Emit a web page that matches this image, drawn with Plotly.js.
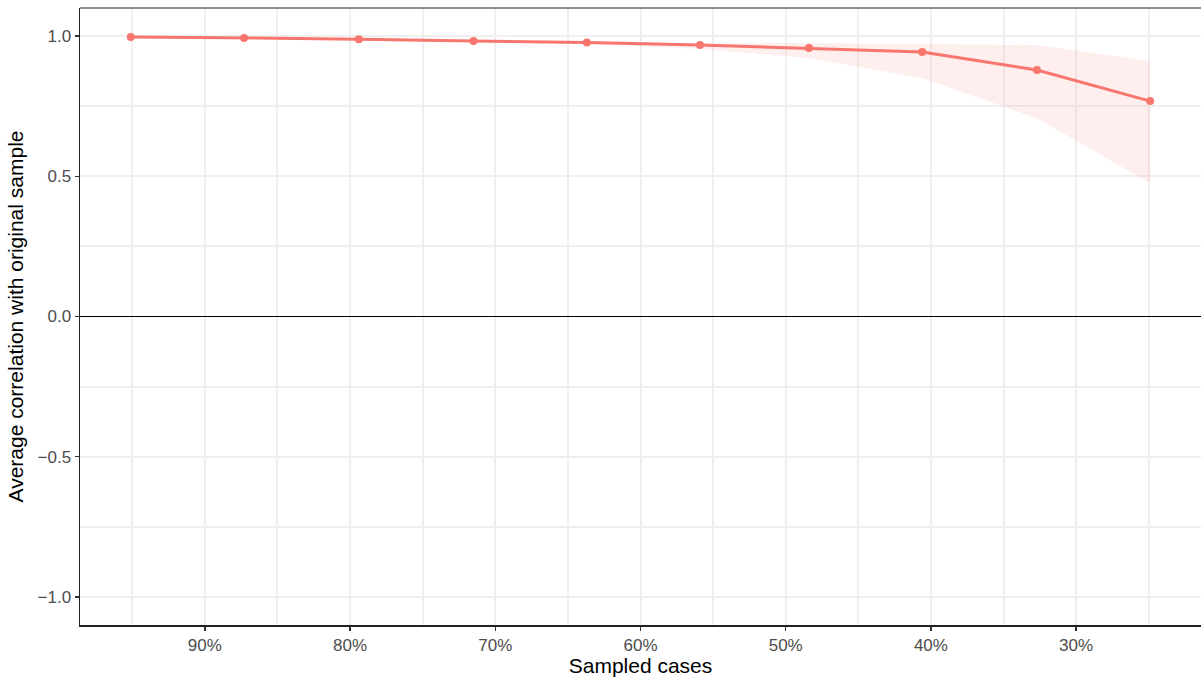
<!DOCTYPE html>
<html>
<head>
<meta charset="utf-8">
<script src="https://cdn.plot.ly/plotly-3.0.1.min.js"></script>
<style>html,body{margin:0;padding:0;background:#fff;}#chart{width:1201px;height:677px;}</style>
</head>
<body>
<div id="chart"></div>
<script>
// Sampled cases (percent) and average correlation with original sample
const sampledPct = [95.1, 87.3, 79.4, 71.5, 63.7, 55.9, 48.4, 40.6, 32.7, 24.9];
const meanCorr   = [0.997, 0.993, 0.989, 0.982, 0.977, 0.968, 0.957, 0.943, 0.879, 0.768];
const upperCorr  = [0.999, 0.996, 0.992, 0.986, 0.981, 0.973, 0.975, 0.971, 0.968, 0.911];
const lowerCorr  = [0.995, 0.990, 0.986, 0.978, 0.972, 0.955, 0.921, 0.850, 0.707, 0.475];
const xTickVals  = [90, 80, 70, 60, 50, 40, 30];
const xTickText  = ["90%", "80%", "70%", "60%", "50%", "40%", "30%"];
const yTickVals  = [-1.0, -0.5, 0.0, 0.5, 1.0];
const yTickText  = ["\u22121.0", "\u22120.5", "0.0", "0.5", "1.0"];

const col = "#F8766D";

const ribbon = {
  x: sampledPct.concat(sampledPct.slice().reverse()),
  y: upperCorr.concat(lowerCorr.slice().reverse()),
  type: "scatter", mode: "lines", fill: "toself",
  fillcolor: "rgba(248,118,109,0.12)", line: {width: 0, color: "rgba(0,0,0,0)"},
  hoverinfo: "skip", showlegend: false
};
const line = {
  x: sampledPct, y: meanCorr, type: "scatter", mode: "lines+markers",
  line: {color: col, width: 3}, marker: {color: col, size: 8},
  showlegend: false
};

const gridCol = "#EFEFEF";
const layout = {
  width: 1201, height: 677,
  margin: {l: 80, r: 0, t: 8, b: 52},
  paper_bgcolor: "#fff", plot_bgcolor: "#fff",
  font: {family: "Liberation Sans, Arial, sans-serif", color: "#4D4D4D", size: 17},
  xaxis: {
    range: [98.6, 21.4], tickvals: xTickVals, ticktext: xTickText,
    showgrid: true, gridcolor: gridCol, gridwidth: 2,
    minor: {dtick: 10, tick0: 25, showgrid: true, gridcolor: gridCol, gridwidth: 2},
    ticks: "outside", ticklen: 4, tickcolor: "#333", tickwidth: 1.5,
    showline: true, linecolor: "#222", linewidth: 1.5,
    zeroline: false,
    tickfont: {size: 17, color: "#4D4D4D"},
    title: {text: "Sampled cases", font: {size: 21, color: "#000"}, standoff: 4}
  },
  yaxis: {
    range: [-1.1, 1.1], tickvals: yTickVals, ticktext: yTickText,
    showgrid: true, gridcolor: gridCol, gridwidth: 2,
    minor: {tickvals: [-0.75, -0.25, 0.25, 0.75], showgrid: true, gridcolor: gridCol, gridwidth: 2},
    ticks: "outside", ticklen: 4, tickcolor: "#333", tickwidth: 1.5,
    showline: true, linecolor: "#222", linewidth: 1.5,
    zeroline: true, zerolinecolor: "#000", zerolinewidth: 1.5,
    tickfont: {size: 17, color: "#4D4D4D"},
    title: {text: "Average correlation with original sample", font: {size: 21, color: "#000"}, standoff: 8}
  },
  shapes: [{
    type: "line", xref: "paper", yref: "paper", x0: 0, x1: 1, y0: 1, y1: 1,
    line: {color: "#666", width: 1.5}
  }]
};

Plotly.newPlot("chart", [ribbon, line], layout, {displayModeBar: false, staticPlot: true});
</script>
</body>
</html>
